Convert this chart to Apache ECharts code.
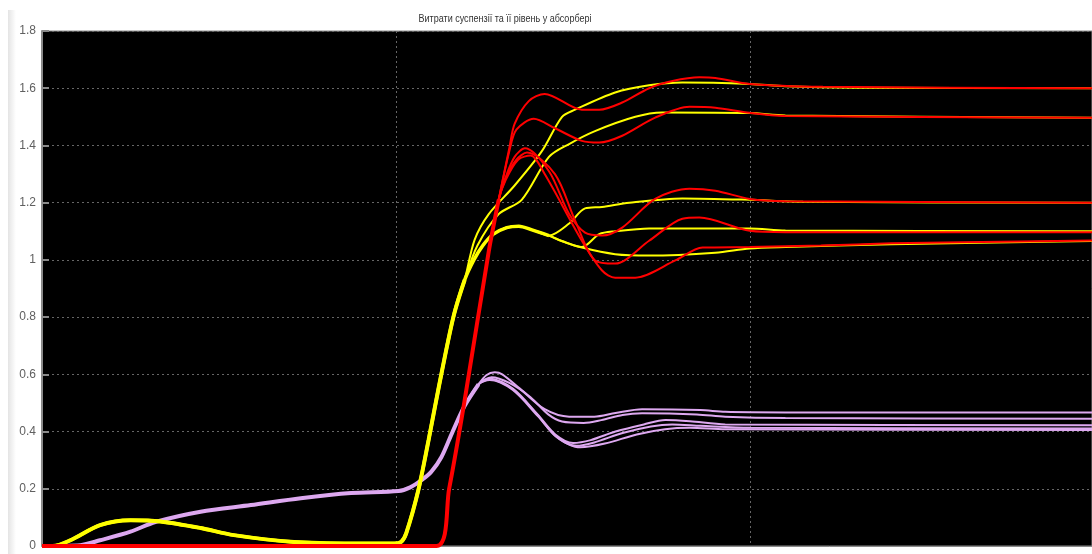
<!DOCTYPE html>
<html>
<head>
<meta charset="utf-8">
<script src="https://cdn.jsdelivr.net/npm/echarts@6/dist/echarts.min.js"></script>
<style>
  html, body { margin: 0; padding: 0; background: #ffffff; }
  #chart { width: 1092px; height: 554px; }
</style>
</head>
<body>
<div id="chart"></div>
<script>
// Scope trace: suspension flow and level in the absorber (time, value pairs)
const titleText = 'Витрати суспензії та її рівень у абсорбері';
const yTicks = [0, 0.2, 0.4, 0.6, 0.8, 1, 1.2, 1.4, 1.6, 1.8];

// --- level traces (lavender) ---
const purpleStart = [[0,0],[1.08,0.003],[1.64,0.02],[2.5,0.05],[3.2,0.084],[4.48,0.12],[5.9,0.143],[7.31,0.167],[8.73,0.185],[10.07,0.192],[10.4,0.205],[10.72,0.23],[11.0,0.26],[11.28,0.31],[11.6,0.4],[11.94,0.49],[12.33,0.565]];
const purple1 = [[12.55,0.597],[12.79,0.607],[13.0,0.6],[13.5,0.55],[14.2,0.478],[14.89,0.452],[15.6,0.452],[16.2,0.465],[16.95,0.478],[18.6,0.475],[19.3,0.469],[21,0.467],[29.8,0.467]];
const purple2 = [[12.7,0.59],[13.2,0.57],[13.8,0.52],[14.3,0.46],[14.69,0.435],[15.3,0.43],[15.8,0.44],[16.4,0.458],[16.95,0.464],[18.5,0.46],[19.3,0.452],[21,0.447],[29.8,0.445]];
const purple3 = [[12.65,0.585],[13.3,0.55],[14.0,0.46],[14.5,0.39],[15.0,0.36],[15.5,0.37],[16.2,0.4],[17.0,0.425],[17.61,0.44],[18.3,0.436],[19.3,0.425],[29.8,0.422]];
const purple4 = [[12.65,0.582],[13.3,0.548],[14.0,0.458],[14.5,0.385],[15.1,0.35],[15.6,0.362],[16.4,0.395],[17.2,0.418],[17.8,0.425],[18.6,0.42],[20,0.413],[29.8,0.411]];
const purple5 = [[12.65,0.58],[13.3,0.545],[14.0,0.455],[14.6,0.375],[15.2,0.345],[15.9,0.358],[16.8,0.39],[17.6,0.408],[18.3,0.413],[19.3,0.408],[29.8,0.405]];

// --- flow set-points (yellow) ---
const yellowStart = [[0,0],[0.3,0],[0.8,0.02],[1.64,0.073],[2.5,0.09],[3.35,0.086],[4.48,0.063],[5.42,0.038],[7.12,0.014],[8.8,0.009],[9.95,0.009],[10.15,0.015],[10.29,0.045],[10.63,0.195],[10.92,0.37],[11.2,0.55],[11.62,0.8],[11.94,0.93]];
const yellowBump = [[12.2,1.0],[12.45,1.05],[12.75,1.09],[13.13,1.113],[13.47,1.118],[13.84,1.105],[14.32,1.085]];
const yellowA = [[12.22,1.07],[12.62,1.16],[13.35,1.26],[14.12,1.38],[14.69,1.5],[15.06,1.525],[16.19,1.585],[17.15,1.61],[18.09,1.62],[19.99,1.615],[21,1.607],[23,1.602],[29.8,1.6]];
const yellowB = [[12.3,1.05],[12.9,1.16],[13.55,1.21],[14.32,1.36],[14.89,1.405],[15.62,1.45],[16.76,1.5],[17.52,1.515],[19.99,1.513],[21,1.505],[29.8,1.497]];
const yellowC = [[14.89,1.127],[15.34,1.18],[15.82,1.185],[16.59,1.2],[18.09,1.215],[19.99,1.21],[21.5,1.203],[29.8,1.2]];
const yellowD = [[14.7,1.065],[15.25,1.045],[15.74,1.09],[16.19,1.1],[17.15,1.11],[19.99,1.11],[21,1.103],[29.8,1.1]];
const yellowE = [[14.7,1.065],[15.25,1.043],[16.19,1.02],[17.15,1.015],[19.02,1.025],[19.99,1.04],[21,1.045],[24,1.055],[29.8,1.066]];

// --- measured flows (red) ---
const redStart = [[0,0],[11.14,0],[11.5,0.2],[11.94,0.51],[12.62,1.03],[12.9,1.21]];
const redA = [[13.2,1.39],[13.35,1.475],[13.75,1.555],[14.2,1.58],[15.25,1.525],[15.74,1.525],[16.39,1.55],[17.15,1.6],[17.81,1.625],[18.57,1.638],[19.02,1.636],[19.99,1.615],[22.06,1.605],[29.8,1.6]];
const redB = [[13.2,1.38],[13.4,1.455],[13.89,1.493],[14.49,1.46],[15.25,1.416],[15.74,1.41],[16.39,1.434],[17.32,1.497],[18.29,1.535],[19.02,1.532],[19.99,1.514],[21,1.503],[29.8,1.497]];
const redC = [[13.1,1.29],[13.35,1.36],[13.64,1.39],[14.32,1.31],[14.89,1.16],[15.34,1.095],[15.82,1.085],[16.39,1.113],[17.32,1.213],[18.29,1.249],[19.02,1.242],[19.99,1.213],[21,1.205],[29.8,1.2]];
const redD = [[13.1,1.285],[13.4,1.35],[13.7,1.375],[14.49,1.3],[15.06,1.137],[15.62,0.998],[16.19,0.987],[17.15,1.067],[18.09,1.144],[18.57,1.148],[19.99,1.102],[21,1.097],[29.8,1.097]];
const redE = [[13.1,1.28],[13.45,1.35],[13.8,1.365],[14.2,1.3],[15.25,1.067],[15.82,0.963],[16.19,0.938],[16.76,0.938],[17.89,0.998],[18.66,1.043],[19.99,1.045],[22,1.05],[24,1.058],[26,1.062],[29.8,1.068]];

const COL_PURPLE = '#DDA8F0';
const COL_YELLOW = '#FFFF00';
const COL_RED = '#FF0000';

function trace(data, color, width) {
  return {
    type: 'line', data: data, showSymbol: false, smooth: 0.3,
    lineStyle: { color: color, width: width }, silent: true, animation: false
  };
}

const series = [
  trace(purpleStart, COL_PURPLE, 4),
  trace(purpleStart.concat(purple1), COL_PURPLE, 2),
  trace(purpleStart.concat(purple2), COL_PURPLE, 2),
  trace(purpleStart.concat(purple3), COL_PURPLE, 2),
  trace(purpleStart.concat(purple4), COL_PURPLE, 2),
  trace(purpleStart.concat(purple5), COL_PURPLE, 2),
  trace(yellowStart, COL_YELLOW, 4),
  trace(yellowStart.concat(yellowBump), COL_YELLOW, 3.5),
  trace(yellowStart.concat(yellowA), COL_YELLOW, 2),
  trace(yellowStart.concat(yellowB), COL_YELLOW, 2),
  trace(yellowStart.concat(yellowBump, yellowC), COL_YELLOW, 2),
  trace(yellowStart.concat(yellowBump, yellowD), COL_YELLOW, 2),
  trace(yellowStart.concat(yellowBump, yellowE), COL_YELLOW, 2),
  trace(redStart, COL_RED, 4),
  trace(redStart.concat(redA), COL_RED, 2),
  trace(redStart.concat(redB), COL_RED, 2),
  trace(redStart.concat(redC), COL_RED, 2),
  trace(redStart.concat(redD), COL_RED, 2),
  trace(redStart.concat(redE), COL_RED, 2)
];

const chart = echarts.init(document.getElementById('chart'), null, { renderer: 'canvas' });
chart.setOption({
  backgroundColor: '#ffffff',
  animation: false,
  grid: {
    left: 42, top: 31, right: 0, bottom: 8,
    show: true, backgroundColor: '#000000', borderColor: '#8a8a8a', borderWidth: 1
  },
  graphic: [
    {
      type: 'rect', left: 8, top: 10, z: -1,
      shape: { width: 8, height: 544 },
      style: {
        fill: new echarts.graphic.LinearGradient(0, 0, 1, 0, [
          { offset: 0, color: '#e4e4e4' }, { offset: 1, color: '#ffffff' }
        ])
      }
    },
    {
      type: 'text', x: 505, y: 19, scaleX: 0.82,
      style: {
        text: titleText, fill: '#333333', align: 'center', verticalAlign: 'middle',
        font: '11px "Liberation Sans", Arial, sans-serif'
      }
    }
  ],
  xAxis: {
    // visible window ends just before the 30 s grid line
    type: 'value', min: 0, max: 29.66, interval: 10,
    axisLine: { show: true, onZero: false, lineStyle: { color: '#8a8a8a' } },
    axisTick: { show: false },
    axisLabel: { show: false },
    splitLine: { show: true, lineStyle: { color: '#666666', type: [2, 3], width: 1 } }
  },
  yAxis: {
    type: 'value', min: 0, max: 1.8, interval: 0.2,
    axisLine: { show: true, lineStyle: { color: '#8a8a8a', width: 2 } },
    axisTick: { show: true, inside: true, length: 7, lineStyle: { color: '#8a8a8a', width: 2 } },
    axisLabel: {
      margin: 6, color: '#606060', fontSize: 12, fontFamily: 'Liberation Sans, Arial, sans-serif',
      formatter: function (v) {
        const hit = yTicks.find(function (t) { return Math.abs(t - v) < 1e-9; });
        return hit === undefined ? '' : String(hit);
      }
    },
    splitLine: { show: true, lineStyle: { color: '#666666', type: [2, 3], width: 1 } }
  },
  series: series
});
</script>
</body>
</html>
